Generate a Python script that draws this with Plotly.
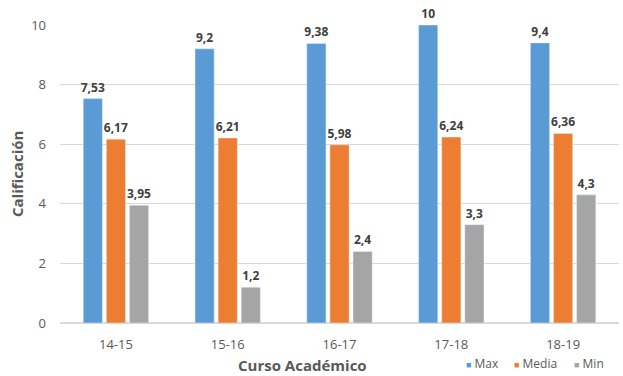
import plotly.graph_objects as go

cursos = ["14-15", "15-16", "16-17", "17-18", "18-19"]
max_vals = [7.53, 9.2, 9.38, 10, 9.4]
media_vals = [6.17, 6.21, 5.98, 6.24, 6.36]
min_vals = [3.95, 1.2, 2.4, 3.3, 4.3]
series_names = ["Max", "Media", "Min"]
colors = ["#5B9BD5", "#ED7D31", "#A5A5A5"]

def fmt(v):
    return ("%g" % v).replace(".", ",")

L, R, T, B = 60, 4, 25, 53
W, H = 623, 376
PW, PH = W - L - R, H - T - B

def px(x):
    return (x - L) / PW

def py(y):
    return (H - B - y) / PH

fig = go.Figure()
for name, vals, col in zip(series_names, [max_vals, media_vals, min_vals], colors):
    fig.add_trace(go.Bar(
        x=cursos, y=vals, name=name, marker_color=col,
        text=[fmt(v) for v in vals], textposition="outside",
        textfont=dict(family="Open Sans", size=12, color="#404040", weight="bold"),
        cliponaxis=False, showlegend=False,
    ))

annotations = [
    dict(text="<b>Curso Académico</b>", x=px(302), y=py(365), xref="paper", yref="paper",
         xanchor="center", yanchor="middle", showarrow=False,
         font=dict(size=15, color="#595959", family="Open Sans")),
    dict(text="<b>Calificación</b>", x=px(17), y=py(174), xref="paper", yref="paper",
         xanchor="center", yanchor="middle", showarrow=False, textangle=-90,
         font=dict(size=15, color="#595959", family="Open Sans")),
]
legend_x = [465, 513, 573]
for name, col, lx in zip(series_names, colors, legend_x):
    annotations.append(dict(
        text=f"<span style='color:{col};font-size:9px'>■</span> {name}",
        x=px(lx - 1), y=py(363), xref="paper", yref="paper",
        xanchor="left", yanchor="middle", showarrow=False,
        font=dict(size=12, color="#595959", family="Open Sans")))

fig.update_layout(
    width=W, height=H,
    margin=dict(l=L, r=R, t=T, b=B, autoexpand=False),
    plot_bgcolor="white", paper_bgcolor="white",
    barmode="group", bargap=0.38, bargroupgap=0.17,
    uniformtext=dict(minsize=12, mode="show"),
    font=dict(family="Open Sans", color="#595959", size=12),
    showlegend=False,
    annotations=annotations,
    xaxis=dict(showline=False, ticks="", tickfont=dict(size=13), automargin=False,
               ticklabelstandoff=12),
    yaxis=dict(range=[0, 10], dtick=2, showgrid=True, gridcolor="#D9D9D9",
               zeroline=True, zerolinecolor="#D9D9D9", tickfont=dict(size=13), showline=False,
               automargin=False, ticklabelstandoff=13),
)

fig.write_html("out.html")
